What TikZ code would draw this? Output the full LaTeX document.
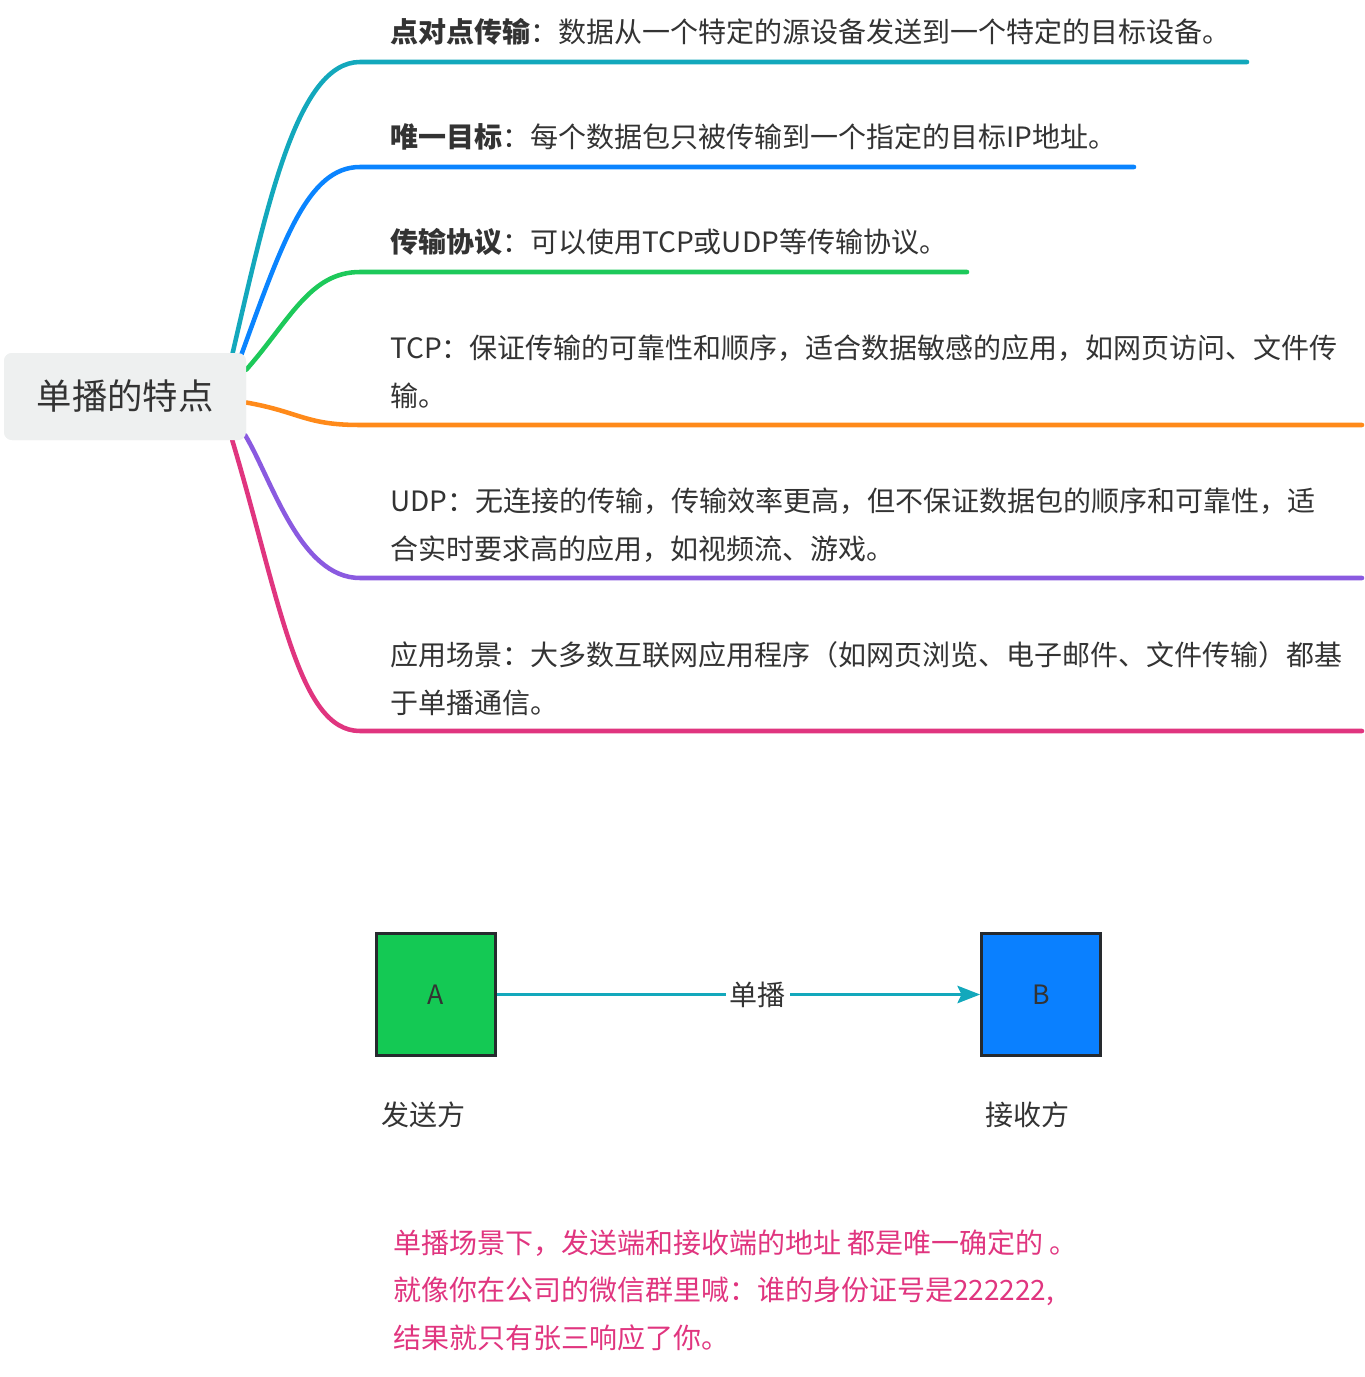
\documentclass[tikz,border=0pt]{standalone}
\usepackage{fontspec}
\setmainfont{Noto Sans CJK SC}
\usetikzlibrary{arrows.meta,calc}
\definecolor{cteal}{HTML}{13A8BC}
\definecolor{cblue}{HTML}{0A84FF}
\definecolor{cgreen}{HTML}{1DC95A}
\definecolor{corange}{HTML}{FF8A1A}
\definecolor{cpurple}{HTML}{8A5AE0}
\definecolor{cpink}{HTML}{E0357F}
\definecolor{ctext}{HTML}{333333}
\definecolor{croot}{HTML}{EEF0F0}
\definecolor{cboxA}{HTML}{14C954}
\definecolor{cboxB}{HTML}{0A80FF}
\definecolor{cborder}{HTML}{262A2E}
\begin{document}
\begin{tikzpicture}[x=0.75pt,y=-0.75pt,
  branch/.style={line width=3.4pt, line cap=round},
  item/.style={anchor=base west, inner sep=0pt, text=ctext, font=\fontsize{21pt}{36pt}\selectfont, align=left},
  rootbox/.style={fill=croot, rounded corners=6pt, minimum width=181.5pt, minimum height=65.25pt, inner sep=0pt, text=ctext, font=\fontsize{26.5pt}{30pt}\selectfont},
  hostbox/.style={draw=cborder, line width=2.25pt, minimum width=89pt, minimum height=91pt, inner sep=0pt, text=ctext, font=\fontsize{20pt}{24pt}\selectfont},
  caption/.style={inner sep=0pt, text=ctext, font=\fontsize{21pt}{24pt}\selectfont},
  note/.style={anchor=base west, inner sep=0pt, text=cpink, font=\fontsize{21pt}{35.5pt}\selectfont, align=left},
  link/.style={draw=cteal, line width=2.4pt, -{Stealth[length=17pt,width=13pt,inset=3pt]}}
]
\useasboundingbox (0,0) rectangle (1364,1377);

% end coordinates of branches
\coordinate (e1) at (1247,62);
\coordinate (e2) at (1134,167);
\coordinate (e3) at (967,272);
\coordinate (e4) at (1362,425);
\coordinate (e5) at (1362,578);
\coordinate (e6) at (1362,731);

\node[rootbox] (root) at (125,396.5) {单播的特点};

% branches (drawn, then root drawn over them)
\draw[branch, cteal]   ($(root.north east)+(-14,2)$) .. controls (268,200) and (298,62) .. (360,62) -- (e1);
\draw[branch, cblue]   ($(root.north east)+(-6,5)$) .. controls (283,240) and (308,167) .. (360,167) -- (e2);
\draw[branch, cgreen]  ($(root.north east)+(0,17)$) .. controls (290,320) and (310,272) .. (360,272) -- (e3);
\draw[branch, corange] ($(root.east)+(0,6)$) .. controls (300,412) and (305,425) .. (360,425) -- (e4);
\draw[branch, cpurple] ($(root.south east)+(-1,-5)$) .. controls (272,480) and (300,578) .. (360,578) -- (e5);
\draw[branch, cpink]   ($(root.south east)+(-14,0)$) .. controls (280,600) and (298,731) .. (360,731) -- (e6);

\node[rootbox] at (root) {单播的特点};

\node[item] (t1) at (390,43) {\textbf{点对点传输}：数据从一个特定的源设备发送到一个特定的目标设备。};
\node[item] (t2) at (390,147) {\textbf{唯一目标}：每个数据包只被传输到一个指定的目标IP地址。};
\node[item] (t3) at (390,252) {\textbf{传输协议}：可以使用TCP或UDP等传输协议。};
\node[item] (t4) at (390,406) {TCP：保证传输的可靠性和顺序，适合数据敏感的应用，如网页访问、文件传\\输。};
\node[item] (t5) at (390,559) {UDP：无连接的传输，传输效率更高，但不保证数据包的顺序和可靠性，适\\合实时要求高的应用，如视频流、游戏。};
\node[item] (t6) at (390,713) {应用场景：大多数互联网应用程序（如网页浏览、电子邮件、文件传输）都基\\于单播通信。};

% unicast diagram
\node[hostbox, fill=cboxA] (A) at (436,994.5) {A};
\node[hostbox, fill=cboxB] (B) at (1041,994.5) {B};
\draw[link] (A.east) -- node[pos=0.54, fill=white, inner sep=3pt, text=ctext, font=\fontsize{21pt}{24pt}\selectfont] (lbl) {单播} (B.west);

\node[caption] (sa) at (423,1115) {发送方};
\node[caption] (sb) at (1027,1115) {接收方};

\node[note] (n1) at (393,1348) {单播场景下，发送端和接收端的地址 都是唯一确定的 。\\就像你在公司的微信群里喊：谁的身份证号是222222,\\结果就只有张三响应了你。};
\end{tikzpicture}
\end{document}
